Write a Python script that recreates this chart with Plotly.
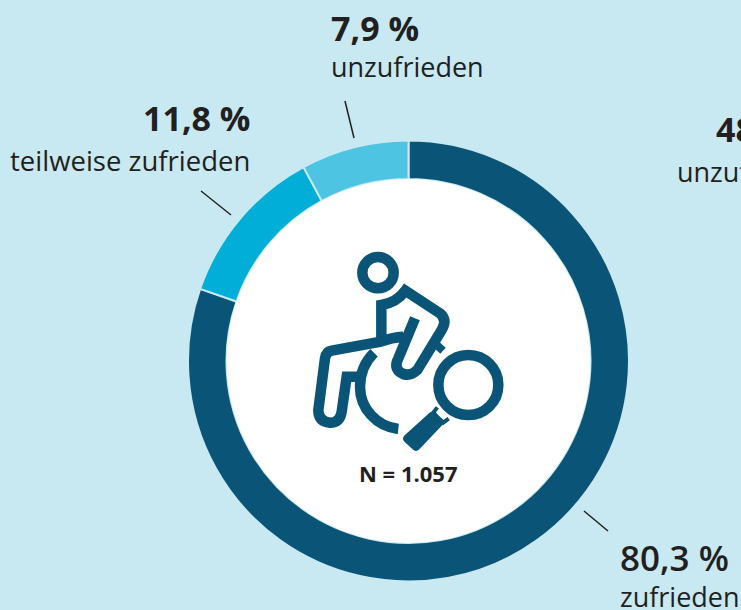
import plotly.graph_objects as go

W, H = 741, 610
BG = "#c8e9f1"
DARK = "#0a5577"
INK = "#231f20"
FONT = "Open Sans"

# data
categories = ["zufrieden", "teilweise zufrieden", "unzufrieden"]
values = [80.3, 11.8, 7.9]
colors = [DARK, "#00aed8", "#4cc4e2"]

def X(x): return x / W
def Y(y): return 1 - y / H

CX, CY, R, RI = 408.5, 361, 220.5, 182

fig = go.Figure(go.Pie(
    labels=categories, values=values, sort=False, direction="clockwise", rotation=0,
    hole=RI / R, textinfo="none", hoverinfo="label+percent", showlegend=False,
    marker=dict(colors=colors, line=dict(color=BG, width=2)),
    domain=dict(x=[X(CX - R), X(CX + R)], y=[Y(CY + R), Y(CY - R)]),
))

shapes = [dict(type="circle", xref="paper", yref="paper", layer="above",
               x0=X(CX - RI), x1=X(CX + RI), y0=Y(CY + RI), y1=Y(CY - RI),
               fillcolor="white", line=dict(width=0))]

# leader lines
for (a, b, c, d) in [(345, 101, 354, 138), (201, 191, 231, 215), (584, 511, 608, 531)]:
    shapes.append(dict(type="line", xref="paper", yref="paper", x0=X(a), y0=Y(b), x1=X(c), y1=Y(d),
                       line=dict(color=INK, width=1.5)))

# icon, in crop coordinates (crop origin 300,230, scale 3)
def zx(v): return X(300 + v / 3)
def zy(v): return Y(230 + v / 3)

def path(cmds, close=False):
    out = []
    for c in cmds:
        op, pts = c[0], c[1:]
        out.append(op + " ".join(f"{zx(pts[i]):.5f},{zy(pts[i + 1]):.5f}" for i in range(0, len(pts), 2)))
    return " ".join(out) + (" Z" if close else "")

def stroke(cmds, w=10.5):
    shapes.append(dict(type="path", xref="paper", yref="paper", path=path(cmds),
                       line=dict(color=DARK, width=w), fillcolor="rgba(0,0,0,0)"))

def ring(cx, cy, r, w=10.5):
    x, y = 300 + cx / 3, 230 + cy / 3
    rp = r / 3
    shapes.append(dict(type="circle", xref="paper", yref="paper",
                       x0=X(x - rp), x1=X(x + rp), y0=Y(y + rp), y1=Y(y - rp),
                       line=dict(color=DARK, width=w), fillcolor="rgba(0,0,0,0)"))

ring(234, 128, 47)
ring(505, 465, 90)
# torso and arm
stroke([("M", 244, 335), ("L", 244, 225), ("Q", 290, 218, 316, 182), ("L", 420, 250),
        ("Q", 443, 270, 425, 300), ("L", 352, 420), ("Q", 325, 445, 298, 425),
        ("Q", 282, 410, 295, 385), ("L", 345, 265)])
stroke([("M", 408, 343), ("L", 429, 362)], 8)
# leg
stroke([("M", 310, 320), ("Q", 275, 322, 242, 335), ("L", 95, 362), ("Q", 78, 365, 75, 385),
        ("L", 55, 540), ("Q", 55, 575, 90, 578), ("Q", 120, 578, 125, 545),
        ("L", 140, 440), ("L", 190, 440)])
# wheel
stroke([("M", 222, 368), ("C", 190, 400, 180, 440, 180, 470), ("C", 180, 535, 230, 590, 295, 597)])
# magnifier handle
shapes.append(dict(type="path", xref="paper", yref="paper",
                   path=path([("M", 392, 545), ("L", 430, 582), ("L", 358, 658), ("Q", 348, 668, 338, 658),
                              ("L", 314, 636), ("Q", 304, 626, 314, 616)], close=True),
                   fillcolor=DARK, line=dict(width=0)))
stroke([("M", 412, 532), ("L", 400, 548), ("L", 430, 578), ("L", 446, 566)], 4)
shapes.append(dict(type="path", xref="paper", yref="paper",
                   path=path([("M", 424, 536), ("L", 438, 548), ("L", 424, 564), ("L", 410, 550)], close=True),
                   fillcolor="white", line=dict(width=0)))

def note(x, y, text, anchor, size, weight=400, color=INK):
    return dict(xref="paper", yref="paper", x=X(x), y=Y(y), text=text, showarrow=False,
                xanchor=anchor, yanchor="middle", borderpad=0, align=anchor,
                font=dict(family=FONT, size=size, color=color, weight=weight))

annotations = [
    note(330, 28, "7,9 %", "left", 34, 700),
    note(330, 67, "unzufrieden", "left", 27),
    note(251, 118, "11,8 %", "right", 34, 700),
    note(251, 160, "teilweise zufrieden", "right", 27.5),
    note(715, 129, "48", "left", 34, 700),
    note(676, 171, "unzufrieden", "left", 27),
    note(619, 557, "80,3 %", "left", 35, 600),
    note(619, 596, "zufrieden", "left", 27),
    note(408, 473, "N = 1.057", "center", 22, 700),
]

fig.update_layout(width=W, height=H, autosize=False, margin=dict(l=0, r=0, t=0, b=0),
                  paper_bgcolor=BG, plot_bgcolor=BG, shapes=shapes, annotations=annotations)
fig.write_html("out.html", config=dict(displayModeBar=False),
               post_script="document.body.style.margin='0';document.documentElement.style.overflow='hidden';")
